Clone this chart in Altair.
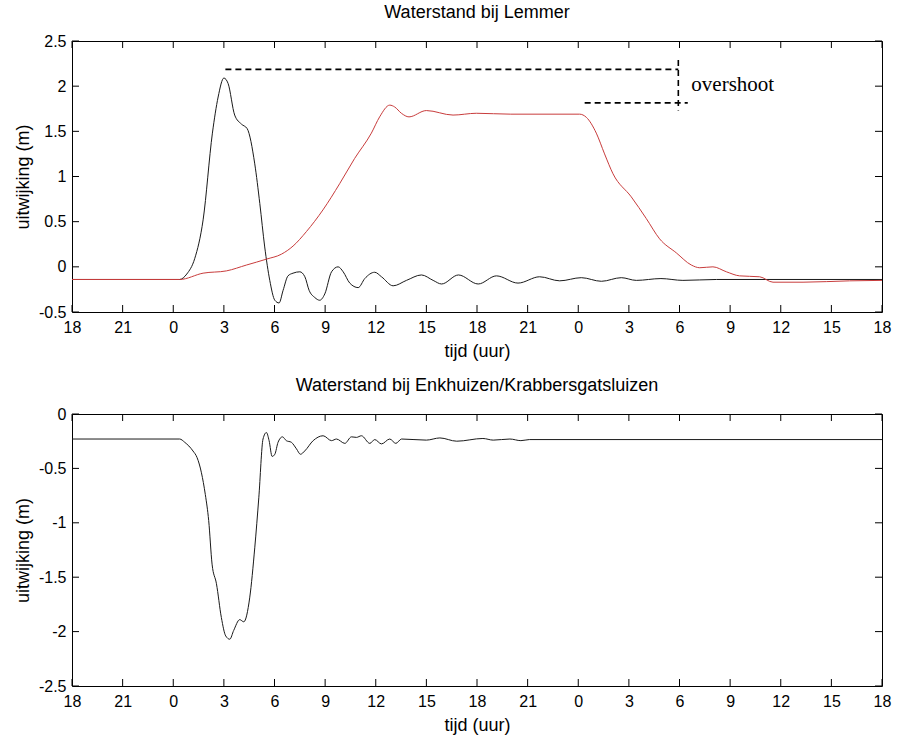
import altair as alt
import pandas as pd

# ---- axis ticks ----
hour_ticks = list(range(0, 49, 3))          # hours after 18:00 of day 1
lem_y_ticks = [-0.5, 0, 0.5, 1, 1.5, 2, 2.5]
enk_y_ticks = [-2.5, -2, -1.5, -1, -0.5, 0]

# ---- Lemmer, black series ----
lem_black_t = [0, 6.38, 6.8, 7.27, 7.77, 8.32, 8.66, 9.0, 9.25, 9.64, 10.04, 10.38, 10.83,
               11.13, 11.42, 11.72, 12.02, 12.27, 12.51, 12.8, 13.1, 13.5, 13.8, 14.05,
               14.39, 14.68, 14.98, 15.38, 15.77, 16.07, 16.46, 16.96, 17.35, 17.94, 18.34,
               19.03, 19.82, 20.71, 21.4, 21.9, 22.9, 24.07, 25.15, 26.43, 27.71, 28.9,
               30.18, 31.37, 32.55, 33.44, 34.9, 36.2, 38.2, 48]
lem_black_v = [-0.14, -0.14, -0.08, 0.09, 0.52, 1.48, 1.88, 2.09, 2.03, 1.68, 1.58, 1.53, 1.14,
               0.70, 0.22, -0.15, -0.37, -0.40, -0.26, -0.10, -0.07, -0.055, -0.11, -0.26,
               -0.34, -0.37, -0.30, -0.055, 0.0, -0.055, -0.18, -0.23, -0.13, -0.06, -0.11,
               -0.21, -0.15, -0.09, -0.15, -0.19, -0.09, -0.19, -0.10, -0.18, -0.11, -0.155,
               -0.12, -0.16, -0.12, -0.15, -0.13, -0.15, -0.14, -0.14]

# ---- Lemmer, red series ----
lem_red_t = [0, 6.38, 7.77, 9.15, 10.34, 11.52, 12.41, 13.1, 13.89, 14.87, 15.86, 16.75,
             17.74, 18.23, 18.83, 19.12, 19.52, 19.97, 21.0, 22.58, 23.96, 26.0, 30.08,
             30.48, 31.07, 31.56, 32.06, 33.14, 34.03, 34.82, 35.81, 36.7, 37.2, 37.98,
             38.78, 39.56, 40.75, 41.54, 43.32, 46.08, 48]
lem_red_v = [-0.14, -0.14, -0.07, -0.045, 0.02, 0.085, 0.14, 0.23, 0.39, 0.63, 0.92, 1.20,
             1.48, 1.66, 1.79, 1.77, 1.70, 1.66, 1.73, 1.68, 1.70, 1.69, 1.69,
             1.655, 1.48, 1.25, 1.03, 0.775, 0.535, 0.31, 0.155, 0.02, -0.01, 0.0,
             -0.055, -0.10, -0.11, -0.17, -0.17, -0.155, -0.15]

# ---- Enkhuizen / Krabbersgatsluizen ----
enk_t = [0, 6.38, 6.68, 7.17, 7.41, 7.67, 7.9, 8.1, 8.3, 8.56, 8.85, 9.11, 9.35, 9.58, 9.94,
         10.18, 10.53, 10.83, 11.07, 11.32, 11.52, 11.68, 11.86, 12.02, 12.21, 12.47, 12.7,
         13.0, 13.3, 13.54, 13.79, 14.29, 14.88, 15.38, 15.67, 16.17, 16.56, 16.86, 17.15,
         17.65, 17.94, 18.34, 18.83, 19.19, 19.53, 21.0, 21.8, 22.8, 24.35, 24.96, 25.95,
         26.6, 27.1, 48]
enk_v = [-0.23, -0.23, -0.26, -0.34, -0.40, -0.54, -0.74, -0.98, -1.38, -1.56, -1.87, -2.04,
         -2.07, -1.99, -1.89, -1.91, -1.69, -1.23, -0.77, -0.23, -0.17, -0.245, -0.39, -0.37,
         -0.26, -0.21, -0.245, -0.26, -0.32, -0.37, -0.34, -0.245, -0.20, -0.245, -0.23,
         -0.27, -0.21, -0.215, -0.20, -0.27, -0.235, -0.275, -0.23, -0.27, -0.23, -0.24,
         -0.22, -0.25, -0.225, -0.24, -0.23, -0.245, -0.235, -0.235]

# ---- overshoot annotation ----
ov_top_t = [9.09, 35.93]
ov_top_v = [2.186, 2.186]
ov_low_t = [30.38, 36.49]
ov_low_v = [1.815, 1.815]
ov_vert_t = [35.93, 35.93]
ov_vert_v = [2.29, 1.73]
ov_label = ["overshoot"]
ov_label_t = [36.7]
ov_label_v = [2.01]

W = 810
H1 = 271
H2 = 272
FONT = "Liberation Sans"
TICK = 7


def panel(series, ydom, yticks, title, height, extra=None):
    xsc = alt.Scale(domain=[0, 48], nice=False, zero=False)
    ysc = alt.Scale(domain=ydom, nice=False, zero=False)
    xaxis = alt.Axis(values=hour_ticks, labelExpr="'' + ((18 + datum.value) % 24)",
                     title="tijd (uur)", labelFont=FONT, labelFontSize=16,
                     titleFont=FONT, titleFontSize=18, labelPadding=7, titlePadding=7,
                     labelFlush=False, grid=False, domain=False, ticks=False, tickSize=0)
    yaxis = alt.Axis(values=yticks, labelExpr="'' + datum.value", title="uitwijking (m)",
                     labelFont=FONT, labelFontSize=16, titleFont=FONT, titleFontSize=18,
                     labelPadding=6, titlePadding=6, grid=False, domain=False, ticks=False,
                     tickSize=0)
    X = lambda: alt.X("t:Q", scale=xsc, axis=xaxis)
    Y = lambda: alt.Y("v:Q", scale=ysc, axis=yaxis)
    layers = []
    for tvals, vvals, col in series:
        df = pd.DataFrame({"t": tvals, "v": vvals})
        layers.append(
            alt.Chart(df).mark_line(color=col, strokeWidth=1, interpolate="monotone").encode(
                x=X(), y=Y())
        )
    if extra:
        layers.extend(extra(X, Y))
    xt = pd.DataFrame({"t": hour_ticks})
    yt = pd.DataFrame({"v": yticks})
    layers.append(alt.Chart(xt).mark_rule(color="black", strokeWidth=1).encode(
        x=X(), y=alt.value(0), y2=alt.value(TICK)))
    layers.append(alt.Chart(xt).mark_rule(color="black", strokeWidth=1).encode(
        x=X(), y=alt.value(height - TICK), y2=alt.value(height)))
    layers.append(alt.Chart(yt).mark_rule(color="black", strokeWidth=1).encode(
        y=Y(), x=alt.value(0), x2=alt.value(TICK)))
    layers.append(alt.Chart(yt).mark_rule(color="black", strokeWidth=1).encode(
        y=Y(), x=alt.value(W - TICK), x2=alt.value(W)))
    return alt.layer(*layers).properties(
        width=W, height=height,
        title=alt.TitleParams(title, fontSize=18, font=FONT, fontWeight="normal",
                              anchor="middle", offset=11, color="black"),
    )


def overshoot(X, Y):
    out = []
    for tv, vv in [(ov_top_t, ov_top_v), (ov_low_t, ov_low_v), (ov_vert_t, ov_vert_v)]:
        df = pd.DataFrame({"t": tv, "v": vv})
        out.append(alt.Chart(df).mark_line(color="black", strokeWidth=1.6, strokeDash=[6, 4]).encode(
            x=X(), y=Y()))
    lab = pd.DataFrame({"t": ov_label_t, "v": ov_label_v, "s": ov_label})
    out.append(alt.Chart(lab).mark_text(align="left", baseline="middle", font="Liberation Serif",
                                        fontSize=21, color="black").encode(
        x=X(), y=Y(), text="s:N"))
    return out


top = panel([(lem_black_t, lem_black_v, "#1a1a1a"), (lem_red_t, lem_red_v, "#c83c3c")],
            [-0.5, 2.5], lem_y_ticks, "Waterstand bij Lemmer", H1, extra=overshoot)
bottom = panel([(enk_t, enk_v, "#1a1a1a")], [-2.5, 0], enk_y_ticks,
               "Waterstand bij Enkhuizen/Krabbersgatsluizen", H2)

chart = alt.vconcat(top, bottom, spacing=102, bounds="flush").properties(
    padding={"left": 13, "top": 3, "right": 5, "bottom": 5},
    background="white",
).configure_view(stroke="black", strokeWidth=1).configure_axis(
    labelColor="black", titleColor="black", titleFontWeight="normal",
)

chart.save("out.html", embed_options={"renderer": "svg", "actions": False})
